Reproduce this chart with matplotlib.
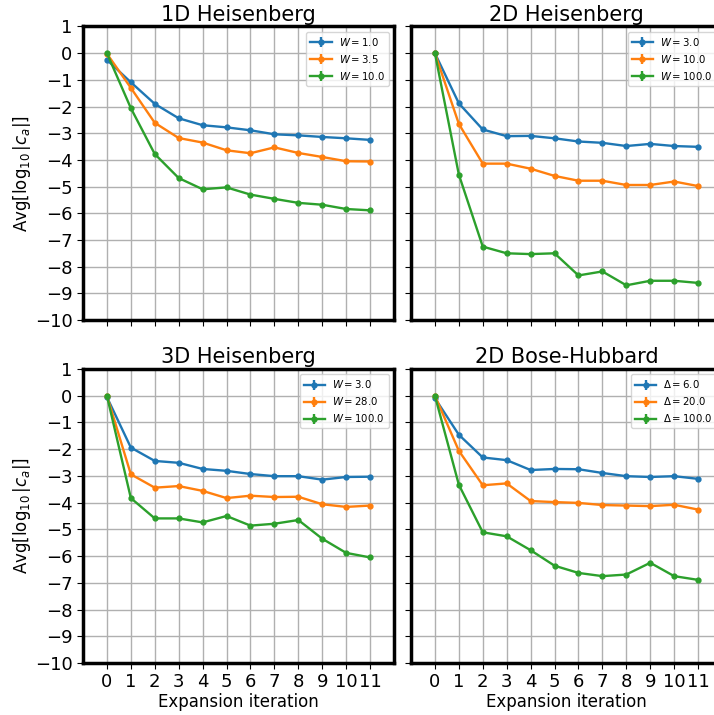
import numpy as np
import matplotlib.pyplot as plt

iters = np.arange(12)

titles = ["1D Heisenberg", "2D Heisenberg", "3D Heisenberg", "2D Bose-Hubbard"]
labels = [
    [r"$W = 1.0$", r"$W = 3.5$", r"$W = 10.0$"],
    [r"$W = 3.0$", r"$W = 10.0$", r"$W = 100.0$"],
    [r"$W = 3.0$", r"$W = 28.0$", r"$W = 100.0$"],
    [r"$\Delta = 6.0$", r"$\Delta = 20.0$", r"$\Delta = 100.0$"],
]

# 1D Heisenberg
h1d_a = [-0.25, -1.09, -1.90, -2.44, -2.70, -2.78, -2.89, -3.04, -3.08, -3.14, -3.19, -3.25]
h1d_b = [-0.02, -1.30, -2.61, -3.18, -3.35, -3.64, -3.75, -3.53, -3.74, -3.89, -4.05, -4.06]
h1d_c = [0.0, -2.06, -3.78, -4.68, -5.10, -5.03, -5.30, -5.46, -5.61, -5.68, -5.84, -5.89]

# 2D Heisenberg
h2d_a = [0.0, -1.88, -2.86, -3.11, -3.10, -3.19, -3.31, -3.36, -3.48, -3.40, -3.48, -3.51]
h2d_b = [0.0, -2.65, -4.14, -4.14, -4.33, -4.60, -4.78, -4.78, -4.94, -4.94, -4.81, -4.98]
h2d_c = [0.0, -4.55, -7.25, -7.50, -7.53, -7.50, -8.33, -8.18, -8.70, -8.53, -8.53, -8.61]

# 3D Heisenberg
h3d_a = [-0.05, -1.94, -2.44, -2.51, -2.74, -2.81, -2.93, -3.01, -3.01, -3.14, -3.04, -3.03]
h3d_b = [0.0, -2.94, -3.44, -3.38, -3.56, -3.83, -3.74, -3.79, -3.78, -4.06, -4.16, -4.11]
h3d_c = [0.0, -3.83, -4.59, -4.59, -4.74, -4.50, -4.86, -4.79, -4.65, -5.35, -5.88, -6.05]

# 2D Bose-Hubbard
bh_a = [-0.09, -1.46, -2.31, -2.41, -2.78, -2.74, -2.75, -2.89, -3.01, -3.04, -3.01, -3.11]
bh_b = [0.0, -2.06, -3.35, -3.28, -3.94, -3.98, -4.01, -4.09, -4.11, -4.13, -4.08, -4.26]
bh_c = [0.0, -3.33, -5.11, -5.26, -5.78, -6.36, -6.63, -6.75, -6.69, -6.25, -6.75, -6.89]

data = [
    [h1d_a, h1d_b, h1d_c],
    [h2d_a, h2d_b, h2d_c],
    [h3d_a, h3d_b, h3d_c],
    [bh_a, bh_b, bh_c],
]

W, H = 714, 715
fig = plt.figure(figsize=(W / 100, H / 100), dpi=100)

# axes boxes in pixels: left, top, width, height
boxes = [(83, 26.5, 311, 293.5), (411, 26.5, 311, 293.5), (83, 369, 311, 294), (411, 369, 311, 294)]

for i, (l, t, w, h) in enumerate(boxes):
    ax = fig.add_axes([l / W, 1 - (t + h) / H, w / W, h / H])
    for ys, lab in zip(data[i], labels[i]):
        ax.errorbar(iters, ys, yerr=np.zeros(12), marker="o", markersize=3.5, lw=1.7, label=lab)
    ax.set_xlim(-1, 12)
    ax.set_ylim(-10, 1)
    ax.set_xticks(iters)
    ax.set_yticks(np.arange(-10, 2))
    ax.grid(True, color="#b0b0b0", lw=1)
    ax.set_axisbelow(True)
    for s in ax.spines.values():
        s.set_linewidth(2.5)
    ax.tick_params(labelsize=13, length=4)
    ax.set_title(titles[i], fontsize=15, pad=4)
    ax.legend(loc="upper right", fontsize=7.3, handlelength=2.1, handletextpad=0.7)
    if i % 2 == 0:
        ax.set_ylabel(r"Avg[$\log_{10}|c_a|$]", fontsize=12, labelpad=1)
    else:
        ax.set_yticklabels([])
    if i >= 2:
        ax.set_xlabel("Expansion iteration", fontsize=12, labelpad=1)
    else:
        ax.set_xticklabels([])

fig.savefig("out.png", dpi=100)
